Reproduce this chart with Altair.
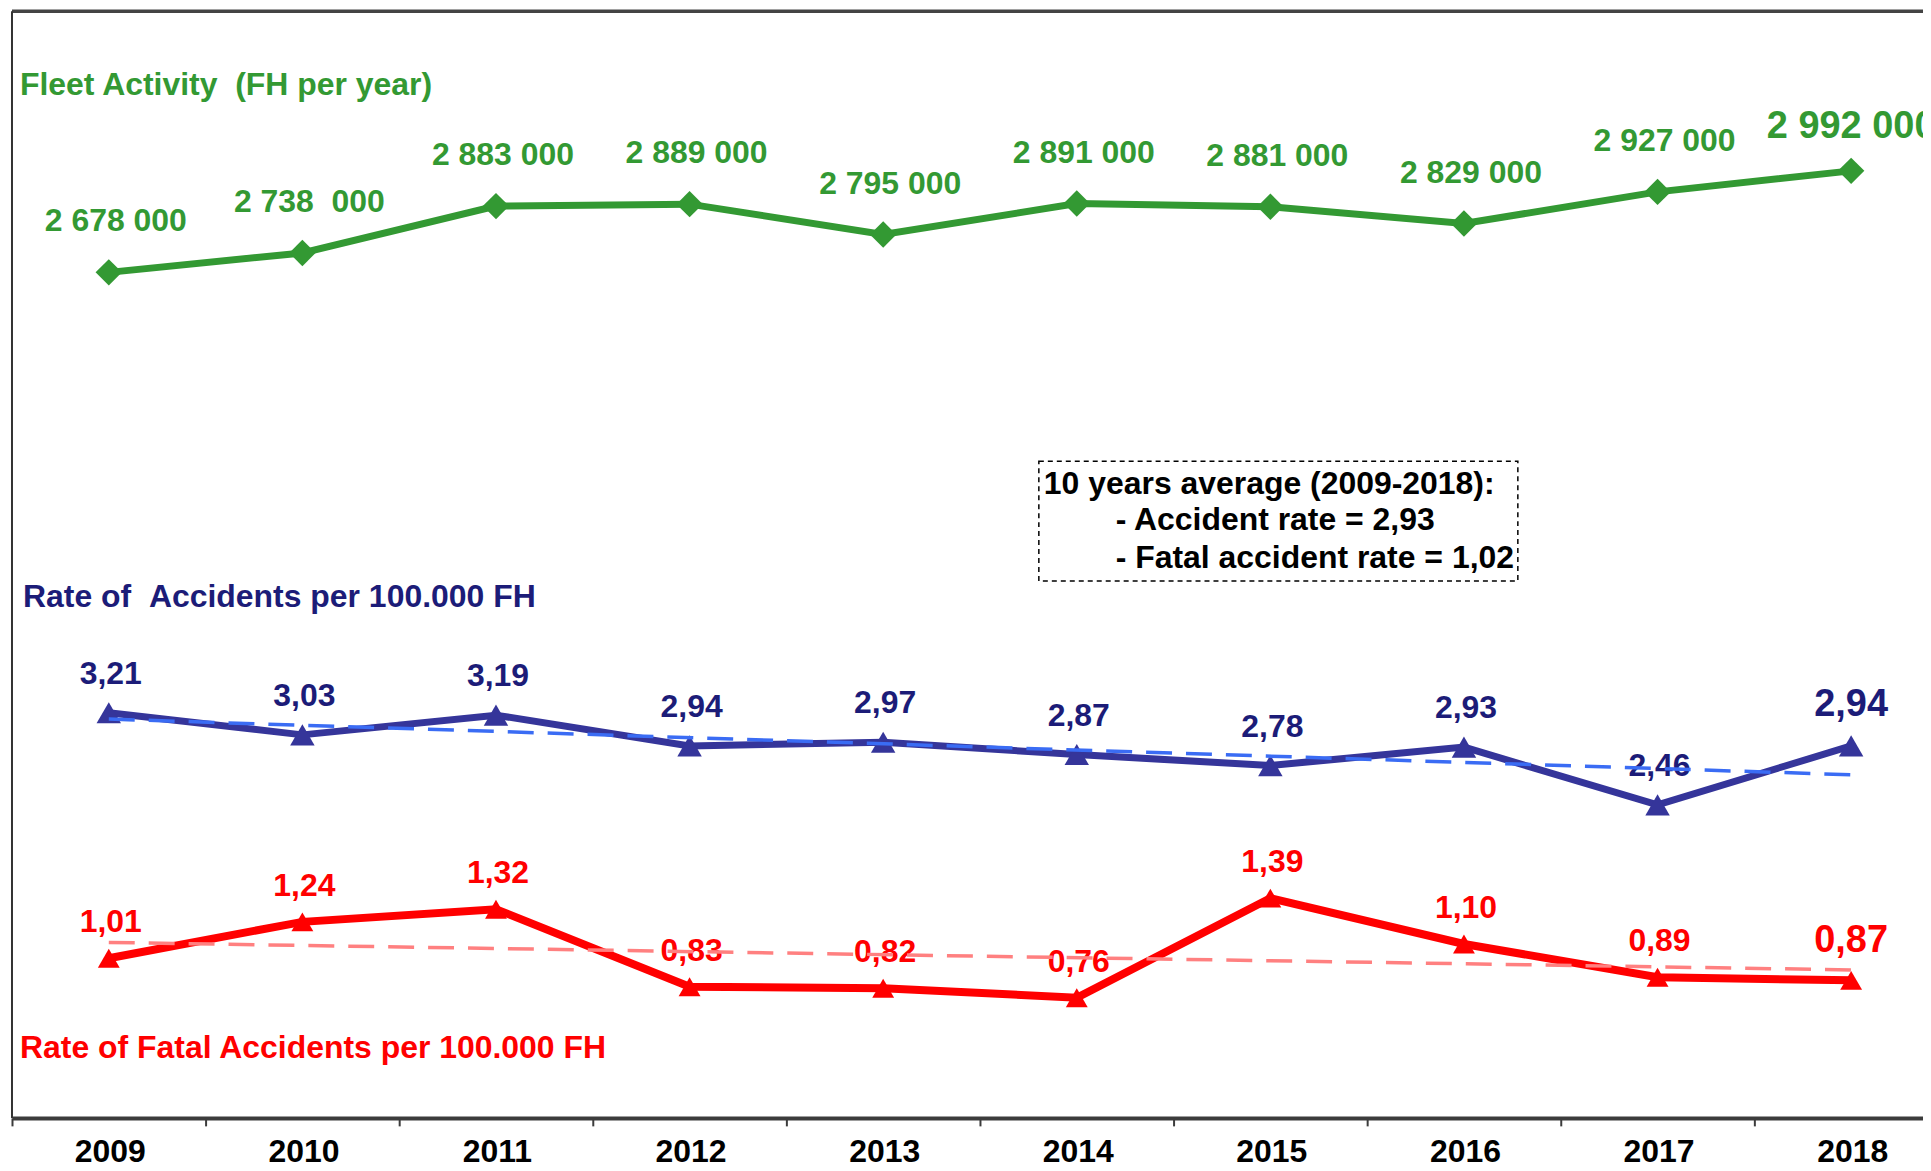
import altair as alt
import pandas as pd

# ---------------- data ----------------
years = [2009, 2010, 2011, 2012, 2013, 2014, 2015, 2016, 2017, 2018]
fleet_hours = [2678000, 2738000, 2883000, 2889000, 2795000, 2891000, 2881000, 2829000, 2927000, 2992000]
fleet_labels = ["2 678 000", "2 738 \u00a0000", "2 883 000", "2 889 000", "2 795 000",
                "2 891 000", "2 881 000", "2 829 000", "2 927 000", "2 992 000"]
accident_rate = [3.21, 3.03, 3.19, 2.94, 2.97, 2.87, 2.78, 2.93, 2.46, 2.94]
fatal_rate = [1.01, 1.24, 1.32, 0.83, 0.82, 0.76, 1.39, 1.10, 0.89, 0.87]
tick_bounds = [2008.5, 2009.5, 2010.5, 2011.5, 2012.5, 2013.5, 2014.5, 2015.5, 2016.5, 2017.5]

series_titles = ["Fleet Activity \u00a0(FH per year)",
                 "Rate of \u00a0Accidents per 100.000 FH",
                 "Rate of Fatal Accidents per 100.000 FH"]
box_lines = ["10 years average (2009-2018):",
             "- Accident rate = 2,93",
             "- Fatal accident rate = 1,02"]

df = pd.DataFrame({
    "year": years,
    "fleet": fleet_hours,
    "fleet_label": fleet_labels,
    "acc": accident_rate,
    "fatal": fatal_rate,
    "acc_label": [f"{v:.2f}".replace(".", ",") for v in accident_rate],
    "fatal_label": [f"{v:.2f}".replace(".", ",") for v in fatal_rate],
})

# ---------------- layout / style ----------------
W, H = 1915, 1109
BAND = 194.0
FONT = "Liberation Sans"
FS = 32
GREEN = "#339933"
NAVY_LINE = "#35359a"
NAVY_TEXT = "#1c1c78"
RED = "#ff0000"
TREND_BLUE = "#3a6cf4"
TREND_RED = "#ff8080"

x_axis = alt.Axis(values=tick_bounds, labelExpr="format(datum.value + 0.5, 'd')",
                  labelOffset=BAND / 2 + 1, labelFlush=False, labelOverlap=False,
                  tickSize=8, tickWidth=2, tickColor="#3c3c3c",
                  domainColor="#3c3c3c", domainWidth=4,
                  labelFont=FONT, labelFontSize=FS, labelFontWeight="bold",
                  labelColor="black", labelPadding=11, grid=False, title=None)
x_enc = alt.X("year:Q", scale=alt.Scale(domain=[2008.5, 2008.5 + W / BAND], nice=False, zero=False),
              axis=x_axis)

s_green = alt.Scale(domain=[62000, 3486000], nice=False, zero=False)
s_blue = alt.Scale(domain=[-0.085, 8.915], nice=False, zero=False)
s_red = alt.Scale(domain=[0, 7], nice=False, zero=False)

base = alt.Chart(df)
is_last = alt.datum.year == 2018
not_last = alt.datum.year != 2018


def series(field, scale, label_field, color, text_color, width, shape, msize, dy, dy_last, dx):
    y = alt.Y(f"{field}:Q", scale=scale, axis=None)
    line = base.mark_line(color=color, strokeWidth=width).encode(x=x_enc, y=y)
    pts = base.mark_point(shape=shape, filled=True, size=msize, color=color, opacity=1).encode(x=x_enc, y=y)
    lab = base.transform_filter(not_last).mark_text(
        font=FONT, fontSize=FS, fontWeight="bold", color=text_color, baseline="middle",
        align="center", dy=dy, dx=dx).encode(x=x_enc, y=y, text=f"{label_field}:N")
    lab_last = base.transform_filter(is_last).mark_text(
        font=FONT, fontSize=38, fontWeight="bold", color=text_color, baseline="middle",
        align="center", dy=dy_last).encode(x=x_enc, y=y, text=f"{label_field}:N")
    return [line, pts, lab, lab_last]


green_layers = series("fleet", s_green, "fleet_label", GREEN, GREEN, 7, "diamond", 700, -51, -44, 7)
blue_layers = series("acc", s_blue, "acc_label", NAVY_LINE, NAVY_TEXT, 7, "triangle-up", 600, -39, -41, 2)
red_layers = series("fatal", s_red, "fatal_label", RED, RED, 8, "triangle-up", 480, -36, -39, 2)

trend_blue = base.transform_regression("year", "acc", method="linear").mark_line(
    color=TREND_BLUE, strokeWidth=3.5, strokeDash=[26, 14]).encode(
    x=x_enc, y=alt.Y("acc:Q", scale=s_blue, axis=None))
trend_red = base.transform_regression("year", "fatal", method="linear").mark_line(
    color=TREND_RED, strokeWidth=3.5, strokeDash=[26, 14]).encode(
    x=x_enc, y=alt.Y("fatal:Q", scale=s_red, axis=None))

one = alt.Chart(pd.DataFrame({"k": [0]}))
top_border = one.mark_rule(color="#444444", strokeWidth=3.5).encode(
    x=alt.value(0), x2=alt.value(W), y=alt.value(0))
left_border = one.mark_rule(color="#333333", strokeWidth=2).encode(
    x=alt.value(0), y=alt.value(0), y2=alt.value(H))


def title_text(txt, color, xp, yp):
    return one.mark_text(font=FONT, fontSize=FS, fontWeight="bold", color=color,
                         align="left", baseline="middle", text=txt).encode(
        x=alt.value(xp), y=alt.value(yp))


t1 = title_text(series_titles[0], GREEN, 8, 74)
t2 = title_text(series_titles[1], NAVY_TEXT, 11, 587)
t3 = title_text(series_titles[2], RED, 8, 1039)

box = one.mark_rect(fill="white", fillOpacity=0, stroke="black", strokeWidth=1.5,
                    strokeDash=[5, 4]).encode(
    x=alt.value(1029), x2=alt.value(1509), y=alt.value(451), y2=alt.value(571))
b1 = title_text(box_lines[0], "black", 1034, 474)
b2 = title_text(box_lines[1], "black", 1106, 510)
b3 = title_text(box_lines[2], "black", 1106, 548)

chart = alt.layer(
    top_border, left_border, box, b1, b2, b3, t1, t2, t3,
    *green_layers, *blue_layers, *red_layers, trend_blue, trend_red
).resolve_scale(y="independent").properties(
    width=W, height=H,
    padding={"left": 4, "top": 2, "right": 0, "bottom": 44},
    autosize=alt.AutoSizeParams(type="none"),
).configure_view(stroke=None)

chart.save("out.html", embed_options={"renderer": "svg", "actions": False})
